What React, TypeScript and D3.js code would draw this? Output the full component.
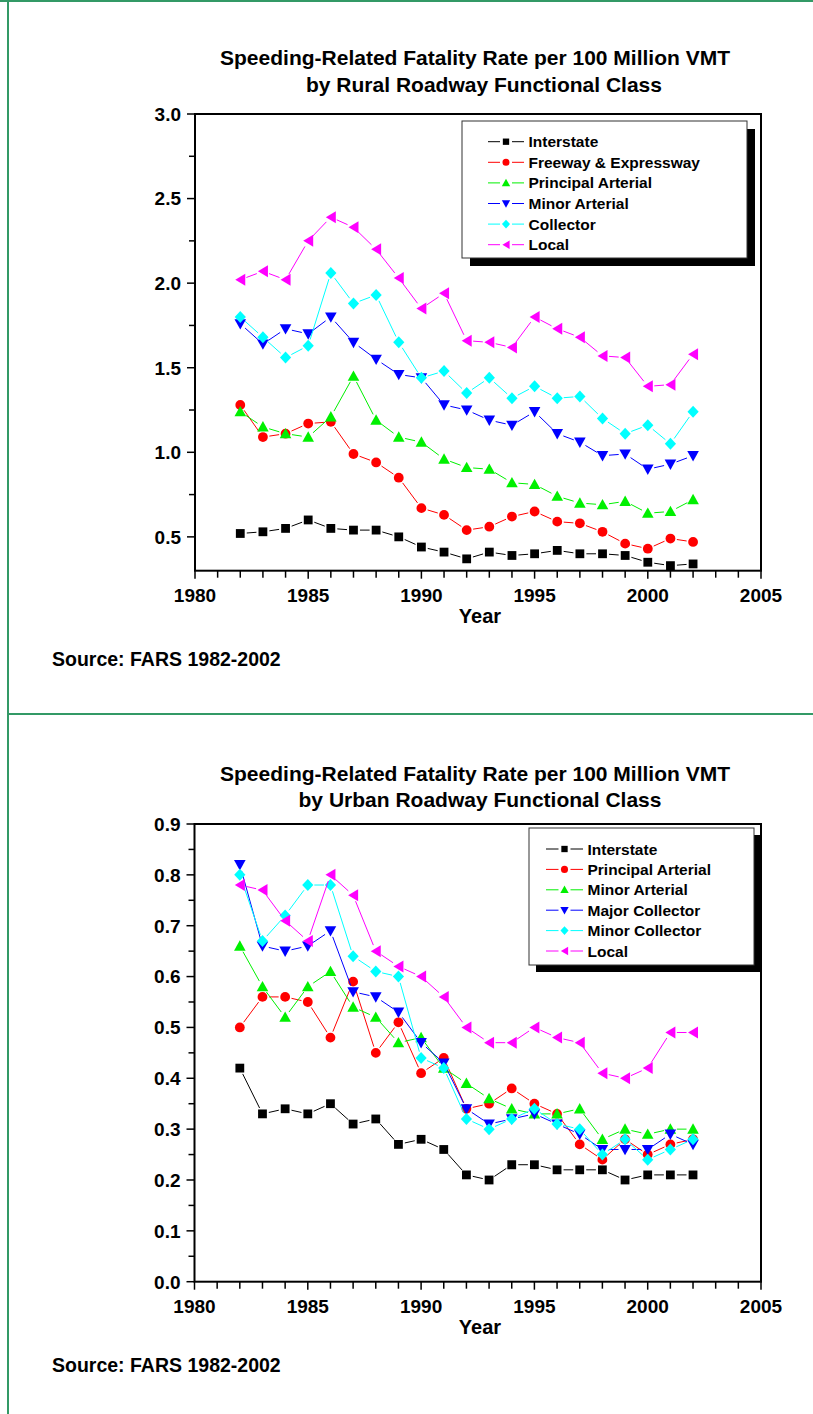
import React from "react";
import * as d3 from "d3";

const FONT = "'Liberation Sans', Arial, Helvetica, sans-serif";
const BORDER = "#339966";

const years = [1982, 1983, 1984, 1985, 1986, 1987, 1988, 1989, 1990, 1991, 1992, 1993, 1994, 1995, 1996, 1997, 1998, 1999, 2000, 2001, 2002];
const xTicks = [1980, 1985, 1990, 1995, 2000, 2005];

// Rural
const ruralNames = ["Interstate", "Freeway & Expressway", "Principal Arterial", "Minor Arterial", "Collector", "Local"];
const ruralInterstate = [0.52, 0.53, 0.55, 0.60, 0.55, 0.54, 0.54, 0.50, 0.44, 0.41, 0.37, 0.41, 0.39, 0.40, 0.42, 0.40, 0.40, 0.39, 0.35, 0.33, 0.34];
const ruralFreeway = [1.28, 1.09, 1.11, 1.17, 1.18, 0.99, 0.94, 0.85, 0.67, 0.63, 0.54, 0.56, 0.62, 0.65, 0.59, 0.58, 0.53, 0.46, 0.43, 0.49, 0.47];
const ruralPrincipal = [1.24, 1.15, 1.11, 1.09, 1.21, 1.45, 1.19, 1.09, 1.06, 0.96, 0.91, 0.90, 0.82, 0.81, 0.74, 0.70, 0.69, 0.71, 0.64, 0.65, 0.72];
const ruralMinorArt = [1.76, 1.64, 1.73, 1.70, 1.80, 1.65, 1.55, 1.46, 1.44, 1.28, 1.25, 1.19, 1.16, 1.24, 1.11, 1.06, 0.98, 0.99, 0.90, 0.93, 0.98];
const ruralCollector = [1.80, 1.68, 1.56, 1.63, 2.06, 1.88, 1.93, 1.65, 1.44, 1.48, 1.35, 1.44, 1.32, 1.39, 1.32, 1.33, 1.20, 1.11, 1.16, 1.05, 1.24];
const ruralLocal = [2.02, 2.07, 2.02, 2.25, 2.39, 2.33, 2.20, 2.03, 1.85, 1.94, 1.66, 1.65, 1.62, 1.80, 1.73, 1.68, 1.57, 1.56, 1.39, 1.40, 1.58];
const ruralYTicks = [0.5, 1.0, 1.5, 2.0, 2.5, 3.0];
const ruralYMinor = [0.75, 1.25, 1.75, 2.25, 2.75];

// Urban
const urbanNames = ["Interstate", "Principal Arterial", "Minor Arterial", "Major Collector", "Minor Collector", "Local"];
const urbanInterstate = [0.42, 0.33, 0.34, 0.33, 0.35, 0.31, 0.32, 0.27, 0.28, 0.26, 0.21, 0.20, 0.23, 0.23, 0.22, 0.22, 0.22, 0.20, 0.21, 0.21, 0.21];
const urbanPrincipal = [0.50, 0.56, 0.56, 0.55, 0.48, 0.59, 0.45, 0.51, 0.41, 0.44, 0.34, 0.35, 0.38, 0.35, 0.33, 0.27, 0.24, 0.28, 0.25, 0.27, 0.28];
const urbanMinorArt = [0.66, 0.58, 0.52, 0.58, 0.61, 0.54, 0.52, 0.47, 0.48, 0.42, 0.39, 0.36, 0.34, 0.33, 0.33, 0.34, 0.28, 0.30, 0.29, 0.30, 0.30];
const urbanMajorCol = [0.82, 0.66, 0.65, 0.66, 0.69, 0.57, 0.56, 0.53, 0.47, 0.43, 0.34, 0.31, 0.32, 0.33, 0.31, 0.29, 0.26, 0.26, 0.26, 0.29, 0.27];
const urbanMinorCol = [0.80, 0.67, 0.72, 0.78, 0.78, 0.64, 0.61, 0.60, 0.44, 0.42, 0.32, 0.30, 0.32, 0.34, 0.31, 0.30, 0.25, 0.28, 0.24, 0.26, 0.28];
const urbanLocal = [0.78, 0.77, 0.71, 0.67, 0.80, 0.76, 0.65, 0.62, 0.60, 0.56, 0.50, 0.47, 0.47, 0.50, 0.48, 0.47, 0.41, 0.40, 0.42, 0.49, 0.49];
const urbanYTicks = [0.0, 0.1, 0.2, 0.3, 0.4, 0.5, 0.6, 0.7, 0.8, 0.9];
const urbanYMinor = [0.05, 0.15, 0.25, 0.35, 0.45, 0.55, 0.65, 0.75, 0.85];

const colors = ["#000000", "#ff0000", "#00f000", "#0000ff", "#00ffff", "#ff00ff"];
const shapes = ["square", "circle", "triUp", "triDown", "diamond", "triLeft"];

function markerPath(shape: string, cx: number, cy: number, k = 1): string {
  const p = d3.path();
  if (shape === "square") {
    const s = 4.4 * k;
    p.rect(cx - s, cy - s, 2 * s, 2 * s);
  } else if (shape === "circle") {
    p.arc(cx, cy, 4.9 * k, 0, Math.PI * 2);
  } else if (shape === "triUp") {
    p.moveTo(cx, cy - 5.8 * k); p.lineTo(cx + 5.8 * k, cy + 4.6 * k); p.lineTo(cx - 5.8 * k, cy + 4.6 * k); p.closePath();
  } else if (shape === "triDown") {
    p.moveTo(cx - 5.8 * k, cy - 4.6 * k); p.lineTo(cx + 5.8 * k, cy - 4.6 * k); p.lineTo(cx, cy + 5.8 * k); p.closePath();
  } else if (shape === "diamond") {
    p.moveTo(cx, cy - 6 * k); p.lineTo(cx + 5.6 * k, cy); p.lineTo(cx, cy + 6 * k); p.lineTo(cx - 5.6 * k, cy); p.closePath();
  } else {
    p.moveTo(cx - 5 * k, cy); p.lineTo(cx + 5 * k, cy - 6 * k); p.lineTo(cx + 5 * k, cy + 6 * k); p.closePath();
  }
  return p.toString();
}

function gappedSegments(pts: [number, number][], gap: number): string {
  const p = d3.path();
  for (let i = 0; i < pts.length - 1; i++) {
    const [x1, y1] = pts[i];
    const [x2, y2] = pts[i + 1];
    const dx = x2 - x1, dy = y2 - y1;
    const len = Math.hypot(dx, dy);
    if (len <= 2 * gap + 1) continue;
    const ux = dx / len, uy = dy / len;
    p.moveTo(x1 + ux * gap, y1 + uy * gap);
    p.lineTo(x2 - ux * gap, y2 - uy * gap);
  }
  return p.toString();
}

type ChartProps = {
  left: number; right: number; top: number; bottom: number;
  yDomain: [number, number]; yTicks: number[]; yMinor: number[];
  series: number[][]; names: string[];
  title1: string; title2: string; t1x: number; t2x: number; t1y: number; t2y: number;
  legend: { x0: number; x1: number; y0: number; y1: number; lineX0: number; lineX1: number; textX: number; rowY0: number; rowDy: number; shadow: number };
  sourceY: number;
};

function Chart(props: ChartProps) {
  const { left, right, top, bottom, yDomain, yTicks, yMinor, series, names, legend } = props;
  const x = d3.scaleLinear().domain([1980, 2005]).range([left, right]);
  const y = d3.scaleLinear().domain(yDomain).range([bottom, top]);
  const xMinor = d3.range(1980, 2006, 1).filter((v) => v % 5 !== 0);
  const fmt = d3.format(".1f");
  return (
    <g fontFamily={FONT} fontWeight="bold">
      <text x={props.t1x} y={props.t1y} textAnchor="middle" fontSize={21}>{props.title1}</text>
      <text x={props.t2x} y={props.t2y} textAnchor="middle" fontSize={21}>{props.title2}</text>
      {/* frame */}
      <rect x={left} y={top} width={right - left} height={bottom - top} fill="none" stroke="#000" strokeWidth={2} />
      {yTicks.map((v) => (
        <g key={"yt" + v}>
          <line x1={left - 8} x2={left} y1={y(v)} y2={y(v)} stroke="#000" strokeWidth={1.5} />
          <text x={left - 14} y={y(v)} dy="0.36em" textAnchor="end" fontSize={19}>{fmt(v)}</text>
        </g>
      ))}
      {yMinor.map((v) => (
        <line key={"ym" + v} x1={left - 6} x2={left} y1={y(v)} y2={y(v)} stroke="#000" strokeWidth={1.5} />
      ))}
      {xTicks.map((v) => (
        <g key={"xt" + v}>
          <line x1={x(v)} x2={x(v)} y1={bottom} y2={bottom + 8} stroke="#000" strokeWidth={1.5} />
          <text x={x(v)} y={bottom + 31} textAnchor="middle" fontSize={19}>{v}</text>
        </g>
      ))}
      {xMinor.map((v) => (
        <line key={"xm" + v} x1={x(v)} x2={x(v)} y1={bottom} y2={bottom + 7} stroke="#000" strokeWidth={1.5} />
      ))}
      <text x={480} y={bottom + 52} textAnchor="middle" fontSize={20}>Year</text>
      {/* series */}
      {series.map((vals, si) => {
        const pts = vals.map((v, i) => [x(years[i]), y(v)] as [number, number]);
        return (
          <g key={"s" + si}>
            <path d={gappedSegments(pts, 6.5)} stroke={colors[si]} strokeWidth={1} fill="none" />
            {pts.map(([px, py], i) => (
              <path key={i} d={markerPath(shapes[si], px, py)} fill={colors[si]} />
            ))}
          </g>
        );
      })}
      {/* legend */}
      <rect x={legend.x0 + legend.shadow} y={legend.y0 + legend.shadow} width={legend.x1 - legend.x0} height={legend.y1 - legend.y0} fill="#000" />
      <rect x={legend.x0} y={legend.y0} width={legend.x1 - legend.x0} height={legend.y1 - legend.y0} fill="#fff" stroke="#333" strokeWidth={1} />
      {names.map((n, i) => {
        const ly = legend.rowY0 + i * legend.rowDy;
        const cx = (legend.lineX0 + legend.lineX1) / 2;
        return (
          <g key={"l" + i}>
            <line x1={legend.lineX0} x2={cx - 6} y1={ly} y2={ly} stroke={colors[i]} strokeWidth={1} />
            <line x1={cx + 6} x2={legend.lineX1} y1={ly} y2={ly} stroke={colors[i]} strokeWidth={1} />
            <path d={markerPath(shapes[i], cx, ly, 0.72)} fill={colors[i]} />
            <text x={legend.textX} y={ly} dy="0.36em" fontSize={15.5}>{n}</text>
          </g>
        );
      })}
      <text x={52} y={props.sourceY} fontSize={19.5}>Source: FARS 1982-2002</text>
    </g>
  );
}

export default function App() {
  return (
    <div style={{ position: "absolute", left: 0, top: 0 }}>
      <svg width={813} height={1414} style={{ display: "block", background: "#fff" }}>
        <rect x={0} y={0} width={813} height={1414} fill="#fff" />
        <rect x={0} y={0} width={813} height={2} fill={BORDER} />
        <rect x={7} y={0} width={2} height={1414} fill={BORDER} />
        <rect x={7} y={713} width={806} height={2} fill={BORDER} />
        <Chart
          left={195} right={761} top={114} bottom={570.7}
          yDomain={[0.3, 3.0]} yTicks={ruralYTicks} yMinor={ruralYMinor}
          series={[ruralInterstate, ruralFreeway, ruralPrincipal, ruralMinorArt, ruralCollector, ruralLocal]}
          names={ruralNames}
          title1="Speeding-Related Fatality Rate per 100 Million VMT"
          title2="by Rural Roadway Functional Class"
          t1x={475} t2x={484} t1y={65} t2y={92}
          legend={{ x0: 462, x1: 747, y0: 121, y1: 258, lineX0: 488, lineX1: 524, textX: 528.5, rowY0: 141.7, rowDy: 20.6, shadow: 8 }}
          sourceY={666}
        />
        <Chart
          left={194.5} right={761} top={824} bottom={1281.7}
          yDomain={[0, 0.9]} yTicks={urbanYTicks} yMinor={urbanYMinor}
          series={[urbanInterstate, urbanPrincipal, urbanMinorArt, urbanMajorCol, urbanMinorCol, urbanLocal]}
          names={urbanNames}
          title1="Speeding-Related Fatality Rate per 100 Million VMT"
          title2="by Urban Roadway Functional Class"
          t1x={475} t2x={480} t1y={781} t2y={807}
          legend={{ x0: 529, x1: 754, y0: 828, y1: 965, lineX0: 546, lineX1: 583, textX: 587.5, rowY0: 849, rowDy: 20.4, shadow: 7 }}
          sourceY={1372}
        />
      </svg>
    </div>
  );
}
